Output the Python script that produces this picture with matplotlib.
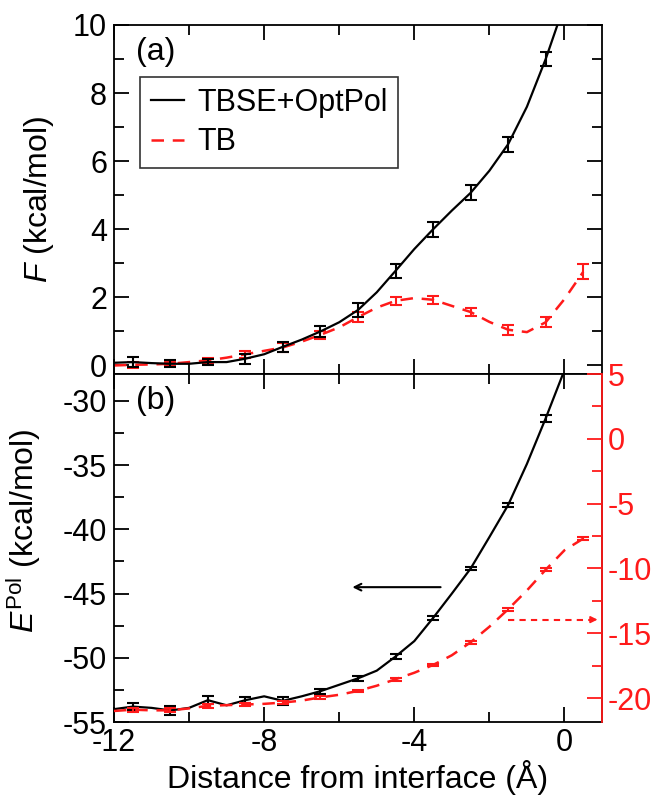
import numpy as np
import matplotlib
matplotlib.use("Agg")
import matplotlib.pyplot as plt
from matplotlib.ticker import MultipleLocator

plt.rcParams['font.family'] = ['Liberation Sans', 'DejaVu Sans']
plt.rcParams['mathtext.fontset'] = 'custom'
plt.rcParams['mathtext.rm'] = 'Liberation Sans'
plt.rcParams['mathtext.it'] = 'Liberation Sans:italic'
plt.rcParams['axes.unicode_minus'] = False

# ---------------- data ----------------
# (a) free energy F (kcal/mol)
x_tbse = np.arange(-12.0, 0.01, 0.5)
F_tbse = [0.08, 0.10, 0.07, 0.05, 0.05, 0.10, 0.10, 0.20, 0.33, 0.55, 0.76, 1.00, 1.27,
          1.63, 2.15, 2.78, 3.42, 4.00, 4.55, 5.07, 5.72, 6.50, 7.60, 9.00, 10.60]
F_tbse_err = [0.15, 0.10, 0.10, 0.15, 0.15, 0.15, 0.20, 0.20, 0.22, 0.22, 0.22, 0.20]

x_tb = np.arange(-12.0, 0.51, 0.5)
F_tb = [0.00, 0.02, 0.03, 0.05, 0.10, 0.15, 0.23, 0.33, 0.43, 0.53, 0.70, 0.90, 1.12,
        1.42, 1.70, 1.90, 1.98, 1.93, 1.75, 1.57, 1.28, 1.05, 0.98, 1.27, 1.95, 2.75]
F_tb_err = [0.08, 0.06, 0.08, 0.10, 0.12, 0.12, 0.15, 0.12, 0.12, 0.13, 0.15, 0.15, 0.22]

# (b) polarization energy (kcal/mol)
E_tbse = [-54.0, -53.8, -53.9, -54.1, -53.9, -53.3, -53.7, -53.3, -53.0, -53.35, -53.0,
          -52.6, -52.1, -51.6, -51.0, -49.9, -48.7, -46.9, -45.0, -43.05, -40.6, -38.1,
          -34.9, -31.35, -27.6]
E_tbse_err = [0.30, 0.35, 0.30, 0.25, 0.30, 0.20, 0.18, 0.18, 0.15, 0.12, 0.12, 0.25]

E_tb = [-21.0, -20.9, -20.95, -20.95, -20.8, -20.6, -20.55, -20.5, -20.45, -20.35, -20.2,
        -19.95, -19.75, -19.45, -19.05, -18.55, -18.05, -17.45, -16.7, -15.7, -14.5,
        -13.15, -11.7, -10.1, -8.6, -7.7]
E_tb_err = [0.15, 0.15, 0.15, 0.12, 0.12, 0.12, 0.10, 0.10, 0.10, 0.10, 0.10, 0.10, 0.10]

xticks = [-12, -8, -4, 0]

# ---------------- figure ----------------
W, H = 657, 796
fig = plt.figure(figsize=(W / 100, H / 100), dpi=100)
L, R = 114 / W, 602 / W
ax1 = fig.add_axes([L, 1 - 374 / H, R - L, 349 / H])
ax2 = fig.add_axes([L, 1 - 722 / H, R - L, 348 / H])
ax3 = ax2.twinx()

FS = 22
FL = 23
red = '#ff1a1a'

def halfmask(x):
    return np.isclose(np.asarray(x) % 1.0, 0.5)

m1 = halfmask(x_tbse)
m2 = halfmask(x_tb)
dash = (0, (5, 3.5))

# (a)
ax1.plot(x_tbse, F_tbse, color='black', lw=1.6, label='TBSE+OptPol', zorder=3)
ax1.errorbar(x_tbse[m1], np.asarray(F_tbse)[m1], yerr=F_tbse_err, fmt='none',
             ecolor='black', elinewidth=1.5, capsize=4, capthick=1.5, zorder=3)
ax1.plot(x_tb, F_tb, color=red, lw=1.8, ls=dash, label='TB', zorder=2)
ax1.errorbar(x_tb[m2], np.asarray(F_tb)[m2], yerr=F_tb_err, fmt='none',
             ecolor=red, elinewidth=1.5, capsize=4, capthick=1.5, zorder=2)
ax1.set_xlim(-12, 1)
ax1.set_ylim(-0.25, 10)
ax1.set_xticks(xticks)
ax1.xaxis.set_minor_locator(MultipleLocator(2))
ax1.yaxis.set_major_locator(MultipleLocator(2))
ax1.yaxis.set_minor_locator(MultipleLocator(1))
ax1.tick_params(axis='x', labelbottom=False)
ax1.set_ylabel(r'$F$ (kcal/mol)', fontsize=FL)
ax1.yaxis.set_label_coords(-0.118, 0.5)
ax1.text(0.045, 0.965, '(a)', transform=ax1.transAxes, fontsize=FL, va='top', ha='left')
leg = ax1.legend(loc='upper left', bbox_to_anchor=(0.053, 0.85), fontsize=FS,
                 frameon=True, fancybox=False, edgecolor='black', borderpad=0.35,
                 handlelength=1.1, handletextpad=0.42, labelspacing=0.3, borderaxespad=0)
leg.get_frame().set_linewidth(1.2)

# (b)
ax2.plot(x_tbse, E_tbse, color='black', lw=1.6, zorder=3)
ax2.errorbar(x_tbse[m1], np.asarray(E_tbse)[m1], yerr=E_tbse_err, fmt='none',
             ecolor='black', elinewidth=1.5, capsize=4, capthick=1.5, zorder=3)
ax3.plot(x_tb, E_tb, color=red, lw=1.8, ls=dash, zorder=2)
ax3.errorbar(x_tb[m2], np.asarray(E_tb)[m2], yerr=E_tb_err, fmt='none',
             ecolor=red, elinewidth=1.5, capsize=4, capthick=1.5, zorder=2)
ax2.set_xlim(-12, 1)
ax2.set_ylim(-55, -27.9)
ax3.set_ylim(-21.85, 5)
ax2.set_xticks(xticks)
ax2.xaxis.set_minor_locator(MultipleLocator(2))
ax2.yaxis.set_major_locator(MultipleLocator(5))
ax2.yaxis.set_minor_locator(MultipleLocator(2.5))
ax3.yaxis.set_major_locator(MultipleLocator(5))
ax3.yaxis.set_minor_locator(MultipleLocator(2.5))
ax2.set_xlabel('Distance from interface (Å)', fontsize=FL, labelpad=2)
ax2.set_ylabel(r'$E^{\mathrm{Pol}}$ (kcal/mol)', fontsize=FL)
ax2.yaxis.set_label_coords(-0.146, 0.55)
ax2.text(0.045, 0.965, '(b)', transform=ax2.transAxes, fontsize=FL, va='top', ha='left')

# arrows
ax2.annotate('', xy=(-5.65, -44.5), xytext=(-3.3, -44.5),
             arrowprops=dict(arrowstyle='->', color='black', lw=1.5,
                             mutation_scale=12, shrinkA=0, shrinkB=0))
ax3.plot([-1.5, 0.75], [-13.95, -13.95], color=red, lw=1.5, ls=(0, (3, 2.5)))
ax3.annotate('', xy=(0.88, -13.95), xytext=(0.7, -13.95),
             arrowprops=dict(arrowstyle='-|>', color=red, lw=1.2,
                             mutation_scale=10, shrinkA=0, shrinkB=0))

# styling
for ax in (ax1, ax2):
    for s in ax.spines.values():
        s.set_linewidth(1.3)
    ax.tick_params(which='both', direction='in', top=True, right=True,
                   labelsize=FS, width=1.3, pad=5)
    ax.tick_params(which='major', length=11)
    ax.tick_params(which='minor', length=7)
ax2.tick_params(axis='y', right=False, which='both')
ax2.tick_params(axis='x', pad=4)
ax3.spines['right'].set_color(red)
ax3.spines['right'].set_linewidth(1.3)
for s in ('left', 'top', 'bottom'):
    ax3.spines[s].set_visible(False)
ax3.tick_params(which='both', direction='in', colors=red, labelsize=FS, width=1.3, pad=4)
ax3.tick_params(which='major', length=11)
ax3.tick_params(which='minor', length=7)

fig.savefig('out.png', dpi=100)
